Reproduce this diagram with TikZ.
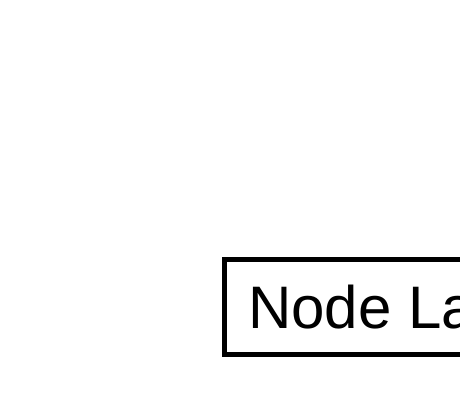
\documentclass[tikz,border=0pt]{standalone}
\usepackage{fontspec}
\setmainfont{Liberation Sans}
\tikzset{labelbox/.style={draw, line width=4.5pt, outer sep=0pt, inner xsep=23.5pt, inner ysep=0pt, text height=68.8pt, text depth=26.2pt, font=\fontsize{60}{64}\selectfont}}
\begin{document}
\begin{tikzpicture}[x=1pt,y=1pt]
\useasboundingbox (0,0) rectangle (460,400);
\clip (0,0) rectangle (460,400);
\node[labelbox, anchor=base west] (n) at (224.5,71.7) {Node Label};
\end{tikzpicture}
\end{document}
